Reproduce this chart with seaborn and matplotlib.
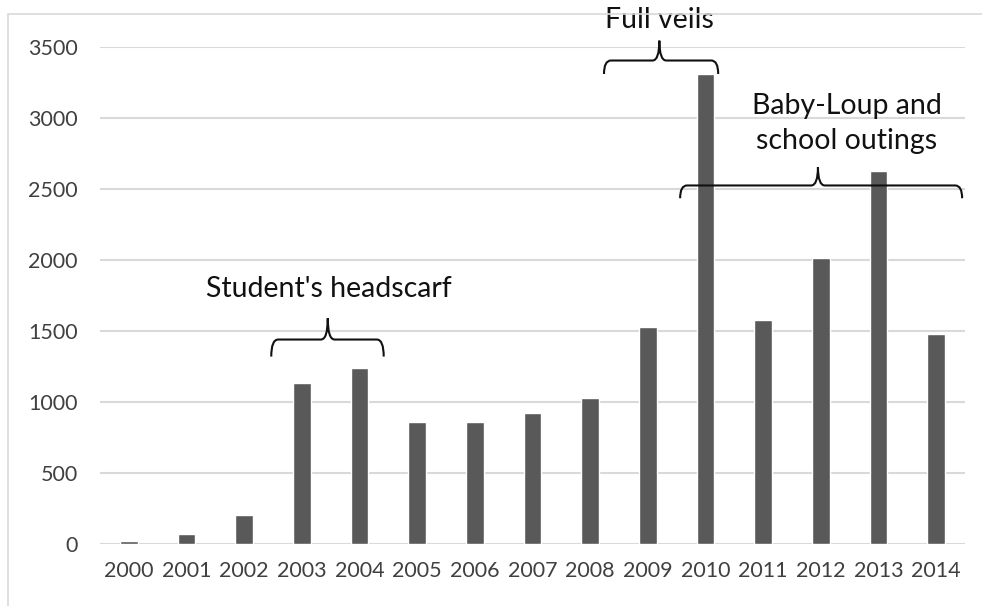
import matplotlib
matplotlib.use("Agg")
import matplotlib.pyplot as plt
import seaborn as sns
import pandas as pd
from matplotlib.path import Path
from matplotlib.patches import PathPatch, Rectangle

years = ["2000", "2001", "2002", "2003", "2004", "2005", "2006", "2007",
         "2008", "2009", "2010", "2011", "2012", "2013", "2014"]
values = [20, 70, 205, 1135, 1240, 860, 860, 920, 1030, 1530, 3310, 1575, 2015, 2630, 1480]
yticks = [0, 500, 1000, 1500, 2000, 2500, 3000, 3500]

df = pd.DataFrame({"year": years, "value": values})

sns.set_theme(style="white")
plt.rcParams['font.family'] = ['Lato', 'DejaVu Sans']

fig = plt.figure(figsize=(9.82, 6.06), dpi=100)
ax = fig.add_axes([0.1018, 0.1023, 0.8809, 0.8201])

sns.barplot(data=df, x="year", y="value", color="#595959", width=0.31,
            saturation=1, ax=ax, zorder=3)

ax.set_ylim(0, 3500)
ax.set_xlim(-0.5, len(years) - 0.5)
ax.set_yticks(yticks)
ax.yaxis.grid(True, color="#d9d9d9", linewidth=1.5, zorder=0)
ax.xaxis.grid(False)
ax.set_axisbelow(True)
for s in ax.spines.values():
    s.set_visible(False)
ax.set_xlabel("")
ax.set_ylabel("")
ax.tick_params(axis="both", length=0, labelsize=15.5, colors="#404040")
ax.tick_params(axis="x", pad=12)
ax.tick_params(axis="y", pad=16)


def brace(x0, x1, y, tip, peak, xm=None):
    if xm is None:
        xm = (x0 + x1) / 2
    r = 0.12
    verts = [
        (x0, y - tip), (x0, y), (x0 + r, y),
        (xm - r, y),
        (xm, y), (xm, y + peak),
        (xm, y), (xm + r, y),
        (x1 - r, y),
        (x1, y), (x1, y - tip),
    ]
    codes = [
        Path.MOVETO, Path.CURVE3, Path.CURVE3,
        Path.LINETO,
        Path.CURVE3, Path.CURVE3,
        Path.CURVE3, Path.CURVE3,
        Path.LINETO,
        Path.CURVE3, Path.CURVE3,
    ]
    p = PathPatch(Path(verts, codes), fill=False, edgecolor="#111111",
                  linewidth=1.5, clip_on=False, zorder=5)
    ax.add_patch(p)


brace(2.47, 4.42, 1440, 120, 150, xm=3.45)
brace(8.24, 10.22, 3405, 95, 140, xm=9.2)
brace(9.56, 14.45, 2525, 90, 130, xm=11.95)

tkw = dict(ha="center", va="center", fontsize=20.5, color="#111111", clip_on=False)
ax.text(3.47, 1795, "Student's headscarf", **tkw)
ax.text(9.2, 3690, "Full veils", **tkw)
ax.text(12.45, 2960, "Baby-Loup and\nschool outings", linespacing=1.45, **tkw)

fig.add_artist(Rectangle((8 / 982, -0.1), 1.1, 1 - 14 / 606 + 0.1,
                         transform=fig.transFigure, fill=False,
                         edgecolor="#d9d9d9", linewidth=1.2))

fig.savefig("out.png", dpi=100)
